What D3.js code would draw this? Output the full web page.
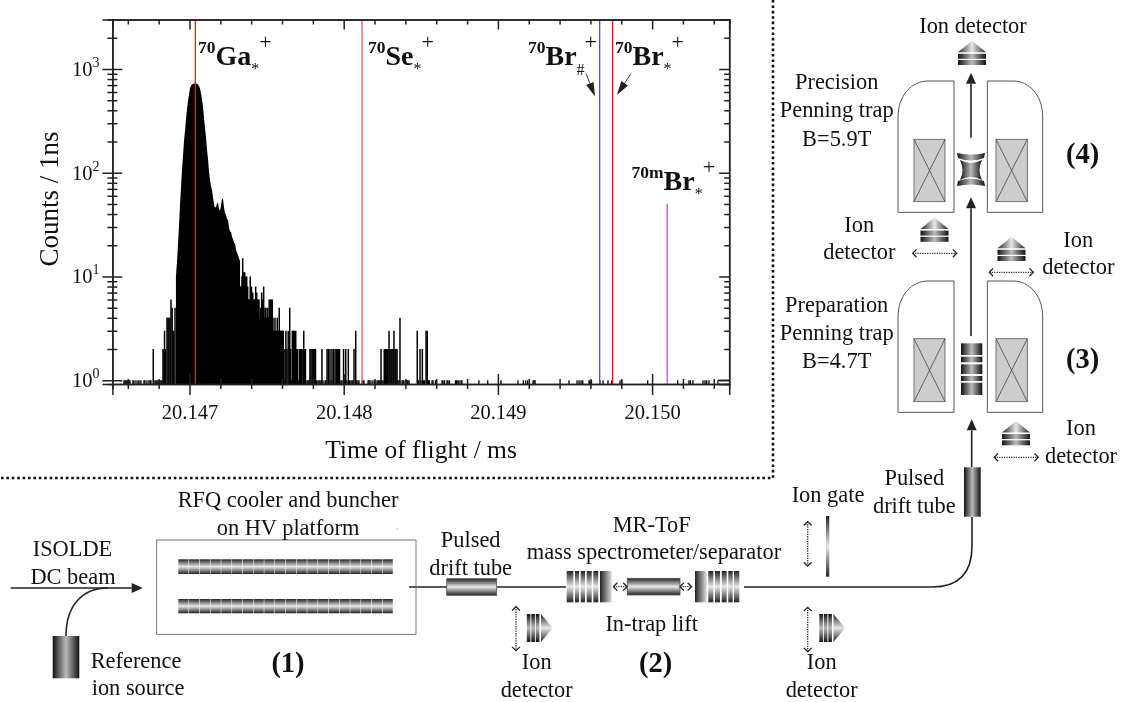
<!DOCTYPE html>
<html>
<head>
<meta charset="utf-8">
<script src="https://cdn.jsdelivr.net/npm/d3@7"></script>
<style>
  html, body { margin: 0; padding: 0; background: #fff; }
  svg { display: block; will-change: transform; }
  text { font-family: "Liberation Serif", serif; fill: #111; }
  .axis path, .axis line { stroke: #222; stroke-width: 1.5; }
  .axis path { fill: none; }
</style>
</head>
<body>
<div id="chart"></div>
<script>
// all times are ns after 20.147 ms
var singlesTof = [-425,-418,-412,-405,-399,-392,-386,-367,-360,-347,-334,-327,-315,-295,-289,-276,-263,-256,-250,
  -224,-217,-211,-204,-198,-191,-185,-178,762,768,775,824,833,840,846,853,866,879,885,918,982,989,1005,1021,1038,
  1047,1054,1060,1084,1093,1099,1119,1125,1131,1158,1164,1171,1184,1197,1203,1216,1223,1229,1235,1248,1255,1352,
  1359,1378,1385,1391,1404,1411,1417,1424,1485,1501,1517,1524,1550,1556,1573,1579,1595,1638,1644,1654,1670,1676,
  1686,1725,1732,1741,1748,1761,1767,1877,1934,2020,2130,2165,2180,2193,2228,2234,2241,2461,2513,2526,2539,2550,
  2591,2597,2607,2662,2682,2714,2738,2792,2803,2971,3166,3239,3249,3265,3330,3343,3354,3369,3427];

var riseTof = [-235,-172,-165,-162,-156,-146,-139,-133,-126,-120,-112,-102,-94];
var riseCounts = [2,2,2,3,2,4,4,4,4,6,5,3,5];

var peakTof = [-88,-81,-75,-68,-62,-55,-49,-42,-36,-29,-23,-16,-10,-3,3,10,16,23,29,36,42,49,55,62,68,75,81,88,94,100,
  107,113,120,126,133,139,146,152,159,165,172,178,185,191,198,204,211,217,224,230,237,243,250,256,263,269,276,282,
  289,295,302,308,315,321,328];
var peakCounts = [10,14,20,31,48,72,105,147,200,256,326,410,490,570,650,695,710,720,725,720,725,720,710,680,650,580,
  510,425,340,275,220,172,135,105,85,75,68,58,50,46,47,50,52,45,43,48,56,56,46,41,39,36,35,30,27,27,24,23,21,21,18,
  17,16,15,14];

// solid part under the spikes of the tail
var tailFloorTof = [328,381,454,541,602];
var tailFloorCounts = [8,6,4,3,2];
var tailFloorEnd = 614;

var tailTof = [333,340,345,352,358,364,371,376,381,388,394,402,410,416,423,429,436,442,449,454,460,468,475,481,490,496,
  501,508,517,524,530,537,541,548,554,560,569,576,582,588,593,602,608,614,619,625,632,640,650,656,661,667,673,680,
  689,695,702,707,715,721,728,736,741,747,752,781,788,796,803,809,817,859,892,901,911,924,934,944,953,960,966,973,
  999,1013,1030,1067,1078,1242,1263,1270,1276,1283,1287,1294,1300,1307,1313,1320,1326,1333,1339,1346,1365,1477,
  1495,1510,1534,1542];
var tailCounts = [8,10,15,11,11,10,10,8,6,6,10,8,7,6,6,8,7,6,6,4,5,7,6,8,5,5,4,5,6,6,6,6,4,2,4,2,4,3,5,3,3,3,3,1,2,3,2,
  3,5,2,1,3,3,3,3,2,2,1,2,2,2,2,3,2,2,2,2,2,2,2,2,2,2,2,2,2,2,2,2,2,2,2,2,2,2,2,3,2,2,2,2,2,2,3,2,2,2,2,3,2,2,2,4,3,
  2,2,3,3];

var lastRun = [3427, 3500];

var xMajor = [20.147, 20.148, 20.149, 20.150];
var xMinor = [20.1466,20.1468,20.1472,20.1474,20.1476,20.1478,20.1482,20.1484,20.1486,20.1488,20.1492,20.1494,20.1496,
  20.1498,20.1502,20.1504];
var yMajor = [1, 10, 100, 1000];
var yMinor = [2,3,4,5,6,7,8,9,20,30,40,50,60,70,80,90,200,300,400,500,600,700,800,900,2000];

var refLines = [
  {name: "Ga", tof: 38, color: "#f01818", top: null},
  {name: "Se", tof: 1119, color: "#ff5555", top: null},
  {name: "Br#", tof: 2660, color: "#4a4af0", top: null},
  {name: "Br", tof: 2744, color: "#f01818", top: null},
  {name: "mBr", tof: 3098, color: "#e23ae2", top: 50}
];

var width = 1122, height = 702;
var svg = d3.select("#chart").append("svg").attr("width", width).attr("height", height);
var defs = svg.append("defs");

function gradient(id, x2, y2, stops) {
  var g = defs.append("linearGradient").attr("id", id)
    .attr("x1", 0).attr("y1", 0).attr("x2", x2).attr("y2", y2);
  stops.forEach(function(s) {
    g.append("stop").attr("offset", s[0]).attr("stop-color", s[1]);
  });
}
var metal = [[0, "#222"], [0.5, "#e8e8e8"], [1, "#222"]];
gradient("gh", 1, 0, metal);
gradient("gv", 0, 1, metal);
gradient("gdark", 1, 0, [[0, "#111"], [0.5, "#bbb"], [1, "#111"]]);
gradient("gwide", 1, 0, [[0, "#222"], [1, "#ddd"]]);

// ---- spectrum ----
var x = d3.scaleLinear().domain([20.1465, 20.1505]).range([112.4, 729.2]);
var y = d3.scaleLog().domain([0.92, 3000]).range([384, 19.5]);
var t = function(ns) { return x(20.147 + ns / 1e6); };

function bars(tof, counts, w, cls) {
  svg.append("g").attr("class", cls).selectAll("line").data(tof).join("line")
    .attr("x1", function(d) { return t(d); })
    .attr("x2", function(d) { return t(d); })
    .attr("y1", y.range()[0])
    .attr("y2", function(d, i) { return y(counts ? counts[i] : 1); })
    .attr("stroke", "#000").attr("stroke-width", w);
}
bars(singlesTof, null, 1.3, "singles");
bars(riseTof, riseCounts, 1.5, "rise");
bars(tailTof, tailCounts, 1.5, "tail");

var floorArea = d3.area().curve(d3.curveStepAfter)
  .x(function(d) { return t(d); })
  .y0(y.range()[0])
  .y1(function(d) { return y(tailFloorCounts[Math.min(tailFloorTof.indexOf(d), tailFloorCounts.length - 1)]); });
svg.append("path").attr("class", "floor").datum(tailFloorTof.concat([tailFloorEnd]))
  .attr("d", function(d) {
    return floorArea.y1(function(v, i) { return y(tailFloorCounts[Math.min(i, tailFloorCounts.length - 1)]); })(d);
  })
  .attr("fill", "#000");

var peakArea = d3.area()
  .x(function(d) { return t(d); })
  .y0(y.range()[0])
  .y1(function(d, i) { return y(peakCounts[i]); });
svg.append("path").attr("class", "peak").datum(peakTof).attr("d", peakArea).attr("fill", "#000");

svg.append("line").attr("x1", t(lastRun[0])).attr("x2", t(lastRun[1]))
  .attr("y1", y(1)).attr("y2", y(1)).attr("stroke", "#000").attr("stroke-width", 1.3);

svg.append("g").selectAll("line").data(refLines).join("line")
  .attr("x1", function(d) { return t(d.tof); })
  .attr("x2", function(d) { return t(d.tof); })
  .attr("y1", y.range()[0])
  .attr("y2", function(d) { return d.top ? y(d.top) : y.range()[1]; })
  .attr("stroke", function(d) { return d.color; })
  .attr("stroke-width", 1.3);

// crossing ticks on bottom and left, inward only on top and right
function crossX(g, n) { g.selectAll(".tick line").attr("y1", -n); }
function crossY(g, n) { g.selectAll(".tick line").attr("x1", n); }

var bottomY = y.range()[0], topY = y.range()[1], leftX = x.range()[0], rightX = x.range()[1];

svg.append("g").attr("class", "axis").attr("transform", "translate(0," + bottomY + ")")
  .call(d3.axisBottom(x).tickValues(xMinor).tickSize(5).tickFormat(""))
  .call(crossX, 5);
svg.append("g").attr("class", "axis").attr("transform", "translate(0," + bottomY + ")")
  .call(d3.axisBottom(x).tickValues(xMajor).tickSize(11).tickPadding(9).tickFormat(d3.format(".3f")))
  .call(crossX, 10)
  .call(function(g) {
    g.selectAll("text").style("font-family", '"Liberation Serif", serif').style("font-size", "20.5px").attr("fill", "#111");
  });
svg.append("g").attr("class", "axis").attr("transform", "translate(0," + topY + ")")
  .call(d3.axisBottom(x).tickValues(xMinor).tickSize(5).tickFormat(""));
svg.append("g").attr("class", "axis").attr("transform", "translate(0," + topY + ")")
  .call(d3.axisBottom(x).tickValues(xMajor).tickSize(10).tickFormat(""));

svg.append("g").attr("class", "axis").attr("transform", "translate(" + leftX + ",0)")
  .call(d3.axisLeft(y).tickValues(yMinor).tickSize(5).tickFormat(""))
  .call(crossY, 5);
svg.append("g").attr("class", "axis").attr("transform", "translate(" + leftX + ",0)")
  .call(d3.axisLeft(y).tickValues(yMajor).tickSize(10).tickFormat(""))
  .call(crossY, 10);
svg.append("g").attr("class", "axis").attr("transform", "translate(" + rightX + ",0)")
  .call(d3.axisLeft(y).tickValues(yMinor).tickSize(5).tickFormat(""));
svg.append("g").attr("class", "axis").attr("transform", "translate(" + rightX + ",0)")
  .call(d3.axisLeft(y).tickValues(yMajor).tickSize(10).tickFormat(""));

var ylab = svg.append("g").selectAll("text").data(yMajor).join("text")
  .attr("x", 72)
  .attr("y", function(d) { return y(d) + 7; })
  .style("font-size", "20.5px");
ylab.append("tspan").text("10");
ylab.append("tspan").attr("dy", -9).style("font-size", "14px").text(function(d) { return Math.round(Math.log10(d)); });

svg.append("text").attr("x", 421).attr("y", 458).attr("text-anchor", "middle")
  .style("font-size", "25.5px").text("Time of flight / ms");
svg.append("text").attr("transform", "translate(58,199) rotate(-90)").attr("text-anchor", "middle")
  .style("font-size", "27px").text("Counts / 1ns");

// ion labels
function ion(xp, yp, mass, sym, sub, subSize, subDy) {
  var l = svg.append("text").attr("x", xp).attr("y", yp).style("font-weight", "bold");
  l.append("tspan").attr("dy", -12).style("font-size", "17.5px").text(mass);
  l.append("tspan").attr("dy", 12).style("font-size", "28px").text(sym);
  l.append("tspan").attr("dy", subDy).style("font-size", subSize + "px").style("font-weight", "normal").text(sub);
  l.append("tspan").attr("dy", -subDy - 16).style("font-size", "22px").style("font-weight", "normal").text("+");
}
ion(198, 65, "70", "Ga", "*", 16, 9);
ion(368, 65, "70", "Se", "*", 16, 9);
ion(528, 65, "70", "Br", "#", 16, 10);
ion(615, 65, "70", "Br", "*", 16, 9);
ion(631.5, 190, "70m", "Br", "*", 16, 9);

function arrow(x1, y1, x2, y2, w, len, lw) {
  var a = Math.atan2(y2 - y1, x2 - x1), bx = x2 - len * Math.cos(a), by = y2 - len * Math.sin(a);
  var nx = -Math.sin(a) * w / 2, ny = Math.cos(a) * w / 2;
  svg.append("line").attr("x1", x1).attr("y1", y1).attr("x2", bx).attr("y2", by)
    .attr("stroke", "#222").attr("stroke-width", lw);
  svg.append("path").attr("fill", "#222")
    .attr("d", "M" + x2 + "," + y2 + "L" + (bx + nx) + "," + (by + ny) + "L" + (bx - nx) + "," + (by - ny) + "Z");
}
arrow(586, 73.5, 595, 96.5, 8, 14, 0.9);
arrow(631, 73.5, 617, 95, 8, 14, 0.9);

// separators
svg.append("path").attr("d", "M773,0V478H0").attr("fill", "none").attr("stroke", "#111")
  .attr("stroke-width", 2.6).attr("stroke-dasharray", "2.6 2.8");

// ---- schematic ----
function label(txt, xp, yp, size, bold) {
  svg.append("text").attr("x", xp).attr("y", yp).attr("text-anchor", "middle")
    .style("font-size", (size || 22.4) + "px").style("font-weight", bold ? "bold" : "normal").text(txt);
}

function rect(x0, y0, x1, y1, fill, stroke) {
  return svg.append("rect").attr("x", x0).attr("y", y0).attr("width", x1 - x0).attr("height", y1 - y0)
    .attr("fill", fill).attr("stroke", stroke || "none").attr("stroke-width", stroke ? 0.8 : 0);
}

// detector: apex up when rot is 0
function detector(cx, cy, rot, plates) {
  var g = svg.append("g").attr("transform", "translate(" + cx + "," + cy + ") rotate(" + rot + ")");
  g.append("path").attr("d", "M0,-12.5L14,-1H-14Z").attr("fill", "url(#gh)");
  var h = plates == 3 ? 3.6 : 5, gap = plates == 3 ? 0.9 : 1.2;
  for (var i = 0; i < plates; i++) {
    g.append("rect").attr("x", -14).attr("width", 28).attr("y", 0.6 + i * (h + gap)).attr("height", h)
      .attr("fill", "url(#gdark)");
  }
}
detector(972, 53.2, 0, 2);
detector(934.5, 230, 0, 2);
detector(1011.5, 249.2, 0, 2);
detector(1016, 433.5, 0, 2);
detector(540, 628, 90, 3);
detector(832.5, 628, 90, 3);

function dotted(x1, y1, x2, y2) {
  svg.append("line").attr("x1", x1).attr("y1", y1).attr("x2", x2).attr("y2", y2)
    .attr("stroke", "#333").attr("stroke-width", 1.3).attr("stroke-dasharray", "1.3 1.1");
  var a = Math.atan2(y2 - y1, x2 - x1), s = 5.5;
  [[x1, y1, a], [x2, y2, a + Math.PI]].forEach(function(e) {
    var p = function(da) { return (e[0] + s * Math.cos(e[2] + da)) + "," + (e[1] + s * Math.sin(e[2] + da)); };
    svg.append("path").attr("fill", "none").attr("stroke", "#222").attr("stroke-width", 1.3)
      .attr("d", "M" + p(0.8) + "L" + e[0] + "," + e[1] + "L" + p(-0.8));
  });
}
dotted(912.7, 253.3, 956.7, 253.3);
dotted(989.3, 272.3, 1033.3, 272.3);
dotted(994.3, 457.3, 1038.3, 457.3);
dotted(516, 606.7, 516, 650.7);
dotted(807.7, 521.7, 807.7, 566);
dotted(807.7, 607.3, 807.7, 651.7);

function magnet(yTop, yBot, coilTop, coilBot) {
  var line = "#555";
  svg.append("path").attr("fill", "none").attr("stroke", line).attr("stroke-width", 1)
    .attr("d", "M898," + yBot + "V" + (yTop + 36) + "C898," + (yTop + 14) + " 912," + yTop + " 928," + yTop + "H954V" + yBot + "Z");
  svg.append("path").attr("fill", "none").attr("stroke", line).attr("stroke-width", 1)
    .attr("d", "M1042.7," + yBot + "V" + (yTop + 36) + "C1042.7," + (yTop + 14) + " 1029," + yTop + " 1013," + yTop + "H987.3V" + yBot + "Z");
  [[914, 945], [996, 1027.3]].forEach(function(c) {
    rect(c[0], coilTop, c[1], coilBot, "#cdcdcd", "#555");
    svg.append("path").attr("fill", "none").attr("stroke", "#444").attr("stroke-width", 0.8)
      .attr("d", "M" + c[0] + "," + coilTop + "L" + c[1] + "," + coilBot + "M" + c[1] + "," + coilTop + "L" + c[0] + "," + coilBot);
  });
}
magnet(81, 212.3, 139.3, 201.7);
magnet(281, 412.3, 338.7, 401.7);

// hyperbolic trap
svg.append("path").attr("fill", "url(#gdark)").attr("d", "M960,160Q971,166 982,160Q977,170 982,180Q971,174 960,180Q965,170 960,160Z");
svg.append("path").attr("fill", "url(#gdark)").attr("d", "M957,153Q971,156 985,153L984,158Q971,163 958,158Z");
svg.append("path").attr("fill", "url(#gdark)").attr("d", "M957,186Q971,183 985,186L984,181Q971,176 958,181Z");

// stack in preparation trap
[[343.3, 355], [356.7, 362.3], [364.3, 374], [376, 381], [382.7, 395]].forEach(function(s) {
  rect(961, s[0], 982.3, s[1], "url(#gdark)");
});

arrow(971, 137.7, 971, 72.7, 10, 11, 1.6);
arrow(971, 336, 971, 197.3, 10, 11, 1.6);
arrow(971.7, 467.3, 971.7, 419.3, 10, 11, 1.6);

// beam lines
function beam(d) {
  svg.append("path").attr("d", d).attr("fill", "none").attr("stroke", "#222").attr("stroke-width", 1.6);
}
beam("M66,636C66,606 82,588 108,588");
arrow(10.7, 588, 142.7, 588, 10, 11, 1.6);
beam("M409,587H447");
beam("M497,587H566");
beam("M744,587H932Q972,587 972,546V517");

rect(52.7, 636, 79.3, 678.3, "url(#gdark)");
rect(964, 467.3, 980.7, 516.7, "url(#gdark)");
rect(446.7, 578.7, 496.7, 595.3, "url(#gv)", "#555");
rect(627.3, 578.3, 680, 595, "url(#gv)", "#555");
rect(826, 516, 829.3, 576.7, "url(#gv)");

// RFQ
rect(156.7, 540, 416, 634.3, "none", "#555");
[[559.3, 574], [599, 613.3]].forEach(function(r) {
  d3.range(20).forEach(function(i) {
    var sx = d3.scaleLinear().domain([0, 20]).range([178.3, 393.3]);
    rect(sx(i), r[0], sx(i + 1) - 0.5, r[1], "url(#gv)");
  });
});
svg.append("circle").attr("cx", 397.3).attr("cy", 529).attr("r", 0.7).attr("fill", "#999");

// MR-ToF electrodes, the wide ones have a sideways shade
[[566.7, 573.3], [575, 579], [580.7, 585], [586.7, 591.7], [593.3, 598.3], [728.3, 732.7], [708.3, 713.3], [715, 720], [721.7, 726.7], [734, 739.3]].forEach(function(s) {
  rect(s[0], 571, s[1], 602.3, "url(#gv)");
});
[[600, 611.7], [695, 706.7]].forEach(function(s) {
  rect(s[0], 571, s[1], 602.3, "url(#gwide)");
});
dotted(613.5, 586.7, 627, 586.7);
dotted(680, 586.7, 691.5, 586.7);

label("Ion detector", 973, 33);
label("Precision", 836.7, 89.3);
label("Penning trap", 836.7, 117.3);
label("B=5.9T", 836.7, 145.7);
label("(4)", 1082.7, 163.3, 28.5, true);
label("Ion", 859.3, 231.7);
label("detector", 859.3, 259.3);
label("Ion", 1078.3, 246.7);
label("detector", 1078.3, 274.3);
label("Preparation", 836.7, 311.7);
label("Penning trap", 836.7, 340);
label("B=4.7T", 836.7, 367.7);
label("(3)", 1082.7, 368.3, 28.5, true);
label("Ion", 1081, 435);
label("detector", 1081, 462.7);
label("Pulsed", 914.3, 485);
label("drift tube", 914.3, 512.7);
label("Ion gate", 828, 501.7);
label("MR-ToF", 651.7, 531.7);
label("mass spectrometer/separator", 654, 559.3);
label("In-trap lift", 651.7, 630.7);
label("(2)", 655.7, 671.7, 28.5, true);
label("Ion", 536.7, 669);
label("detector", 536.7, 696.7);
label("Ion", 821.7, 669);
label("detector", 821.7, 696.7);
label("Pulsed", 470.7, 546.7);
label("drift tube", 470.7, 575);
label("RFQ cooler and buncher", 288, 506.7);
label("on HV platform", 288, 535);
label("(1)", 288, 671.7, 28.5, true);
label("ISOLDE", 72.5, 556);
label("DC beam", 73, 584);
label("Reference", 136, 668);
label("ion source", 138, 695);
</script>
</body>
</html>
